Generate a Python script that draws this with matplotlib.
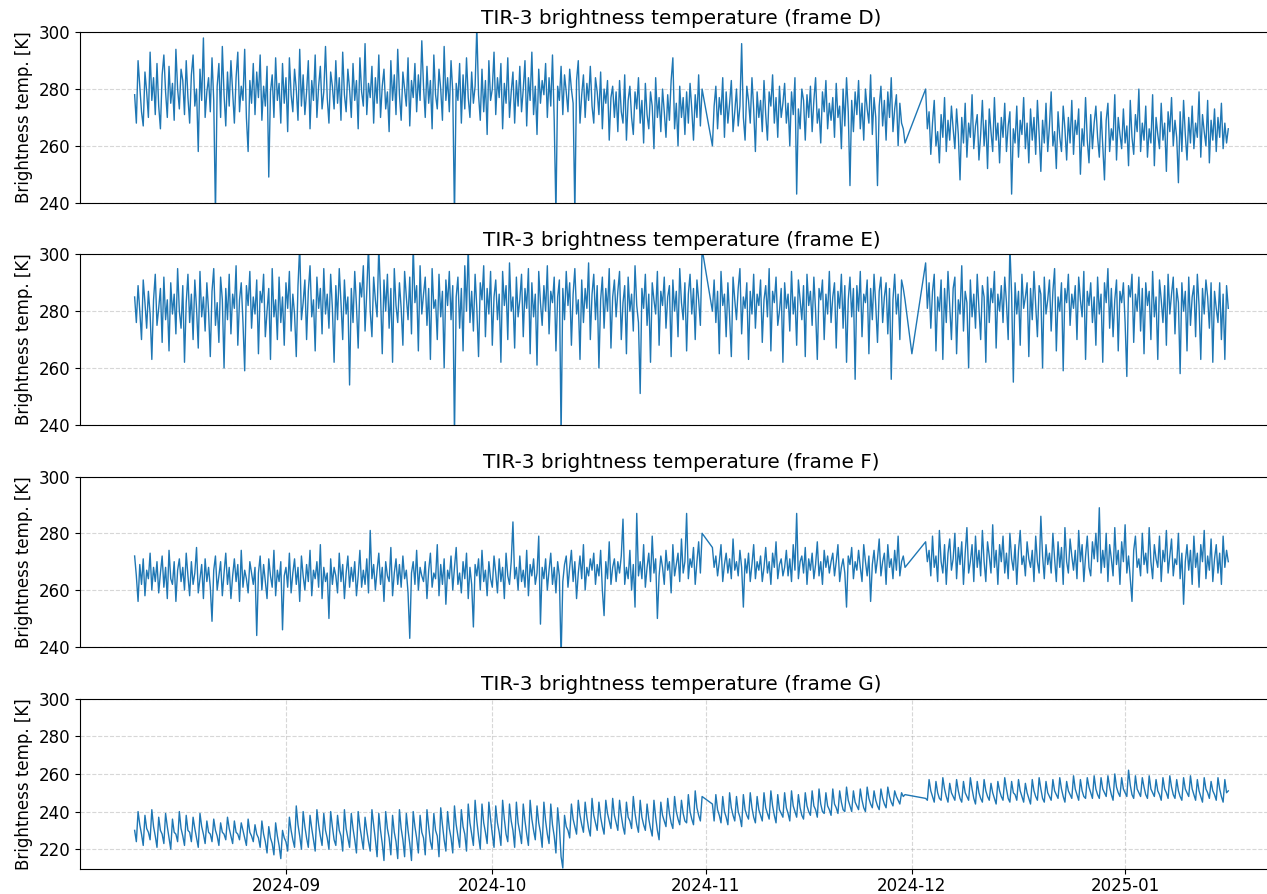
import numpy as np
import pandas as pd
import matplotlib
matplotlib.use('Agg')
import matplotlib.pyplot as plt
import matplotlib.dates as mdates

nan = np.nan

# Brightness temperatures [K], every 6 h from 2024-08-10, 3.5 days per line
frame_D = [
    278, 268, 290, 281, 272, 267, 286, 279, 270, 293, 276, 284, 271, 289,
    274, 266, 285, 292, 279, 270, 288, 275, 282, 269, 294, 280, 273, 287,
    283, 271, 290, 277, 268, 285, 292, 274, 280, 258, 287, 276, 298, 270,
    279, 284, 272, 291, 276, 236, 281, 289, 270, 295, 278, 267, 286, 274,
    290, 279, 268, 284, 293, 272, 281, 276, 294, 270, 258, 283, 275, 289,
    271, 286, 277, 292, 269, 281, 274, 288, 249, 279, 285, 270, 291, 276,
    282, 268, 289, 275, 284, 265, 291, 278, 272, 287, 280, 269, 294, 274,
    285, 271, 279, 290, 266, 283, 276, 292, 270, 281, 288, 273, 279, 295,
    277, 268, 286, 281, 273, 290, 275, 284, 269, 293, 278, 272, 287, 280,
    270, 289, 276, 283, 266, 291, 279, 274, 296, 271, 282, 277, 288, 268,
    284, 275, 292, 270, 281, 287, 273, 279, 265, 290, 276, 285, 271, 294,
    278, 269, 286, 280, 274, 291, 267, 283, 277, 289, 272, 285, 276, 297,
    281, 270, 288, 275, 283, 266, 292, 278, 273, 287, 280, 269, 295, 276,
    284, 272, 290, 279, 235, 282, 276, 289, 268, 285, 273, 291, 277, 270,
    286, 275, 281, 302, 278, 269, 287, 272, 283, 264, 290, 276, 280, 293,
    271, 284, 277, 289, 266, 282, 275, 291, 270, 279, 286, 268, 283, 274,
    288, 272, 280, 290, 267, 284, 276, 293, 271, 281, 264, 287, 275, 283,
    278, 289, 270, 284, 274, 292, 269, 236, 281, 276, 288, 271, 285, 279,
    272, 287, 280, 275, 236, 283, 290, 268, 278, 285, 270, 282, 276, 288,
    274, 268, 284, 279, 271, 286, 266, 280, 275, 283, 262, 277, 281, 270,
    279, 265, 283, 272, 268, 285, 262, 276, 281, 270, 264, 279, 273, 284,
    268, 276, 261, 282, 271, 266, 279, 274, 259, 284, 270, 277, 265, 280,
    272, 263, 278, 269, 283, 291, 266, 275, 260, 281, 270, 277, 264, 279,
    268, 282, 273, 262, 278, 270, 285, 267, 280, nan, nan, nan, nan, nan,
    260, 274, 281, 266, 277, 271, 284, 263, 279, 268, 275, 283, 265, 272,
    280, 267, 274, 296, 270, 262, 281, 276, 268, 284, 273, 258, 279, 270,
    276, 265, 283, 271, 262, 279, 274, 285, 268, 277, 263, 281, 270, 275,
    282, 268, 275, 260, 279, 271, 284, 243, 273, 266, 280, 276, 262, 278,
    270, 281, 265, 276, 284, 268, 273, 261, 279, 272, 283, 266, 275, 269,
    277, 263, 282, 270, 274, 259, 280, 267, 284, 272, 246, 276, 265, 279,
    271, 283, 266, 275, 262, 280, 273, 268, 285, 264, 277, 270, 246, 274,
    281, 267, 276, 262, 279, 270, 284, 265, 273, 278, 260, 275, 268, 266,
    261, nan, nan, nan, nan, nan, nan, nan, nan, nan, nan, nan, 280, 266,
    272, 257, 268, 276, 260, 265, 254, 271, 263, 277, 258, 269, 262, 274,
    266, 259, 273, 264, 248, 270, 261, 275, 256, 268, 263, 278, 259, 267,
    271, 255, 264, 276, 260, 269, 252, 273, 265, 258, 277, 262, 268, 254,
    270, 263, 275, 258, 267, 272, 243, 266, 261, 274, 256, 269, 264, 277,
    259, 268, 254, 273, 262, 270, 257, 276, 264, 251, 269, 261, 275, 258,
    267, 279, 260, 265, 252, 272, 263, 258, 274, 266, 255, 270, 261, 276,
    257, 269, 264, 273, 250, 266, 260, 277, 262, 254, 271, 259, 268, 274,
    263, 256, 272, 260, 248, 269, 275, 258, 266, 262, 278, 255, 270, 264,
    259, 273, 261, 267, 253, 276, 263, 257, 271, 265, 280, 258, 268, 262,
    274, 256, 266, 261, 278, 253, 270, 264, 259, 275, 262, 268, 251, 272,
    265, 277, 260, 269, 263, 247, 272, 258, 276, 264, 255, 270, 261, 274,
    259, 268, 263, 279, 256, 271, 265, 260, 276, 254, 269, 262, 273, 258,
    270, 263, 275, 259, 268, 261, 266,
]

frame_E = [
    285, 276, 289, 280, 270, 291, 283, 274, 287, 279, 263, 284, 293, 275,
    281, 288, 269, 292, 277, 284, 266, 290, 279, 286, 272, 295, 280, 274,
    289, 262, 283, 293, 276, 286, 270, 291, 281, 267, 294, 278, 285, 273,
    290, 280, 264, 287, 295, 275, 283, 269, 292, 284, 260, 288, 277, 293,
    272, 286, 281, 296, 268, 284, 290, 276, 259, 289, 282, 294, 274, 285,
    279, 291, 265, 287, 283, 293, 271, 280, 288, 263, 295, 278, 284, 270,
    292, 276, 285, 268, 290, 281, 294, 273, 286, 279, 264, 289, 303, 277,
    283, 291, 270, 287, 296, 278, 284, 266, 292, 281, 288, 272, 295, 279,
    286, 274, 293, 281, 262, 289, 277, 295, 283, 270, 291, 279, 285, 254,
    288, 276, 294, 282, 267, 290, 285, 296, 273, 287, 303, 280, 271, 292,
    284, 278, 303, 286, 265, 291, 280, 293, 274, 288, 262, 295, 282, 276,
    290, 281, 268, 294, 285, 277, 292, 272, 303, 283, 289, 266, 296, 279,
    286, 292, 275, 288, 263, 295, 281, 284, 270, 293, 278, 287, 260, 291,
    282, 294, 277, 289, 236, 285, 292, 274, 288, 266, 296, 280, 303, 276,
    287, 273, 293, 281, 264, 290, 284, 296, 271, 288, 279, 294, 268, 285,
    291, 277, 286, 262, 294, 282, 289, 270, 297, 280, 285, 267, 292, 278,
    284, 293, 271, 288, 281, 295, 265, 290, 278, 286, 261, 294, 283, 275,
    289, 280, 296, 272, 287, 283, 292, 266, 285, 291, 236, 288, 277, 294,
    282, 290, 268, 286, 295, 279, 284, 263, 291, 276, 288, 281, 297, 270,
    286, 293, 277, 289, 260, 284, 292, 274, 288, 280, 295, 267, 285, 291,
    278, 287, 294, 270, 283, 289, 265, 292, 280, 286, 273, 296, 282, 276,
    251, 288, 281, 293, 275, 286, 262, 290, 284, 279, 294, 268, 287, 282,
    292, 274, 285, 289, 264, 291, 280, 287, 271, 295, 283, 277, 290, 266,
    286, 293, 279, 288, 270, 291, 284, 275, 302, nan, nan, nan, nan, nan,
    280, 291, 276, 287, 265, 294, 282, 286, 271, 290, 278, 264, 292, 284,
    277, 288, 295, 272, 285, 281, 290, 263, 287, 279, 293, 274, 286, 282,
    291, 269, 284, 289, 278, 295, 266, 287, 283, 292, 275, 280, 288, 262,
    290, 281, 286, 273, 294, 279, 285, 268, 291, 284, 277, 289, 264, 293,
    282, 287, 275, 292, 280, 263, 288, 284, 291, 270, 286, 279, 294, 276,
    285, 290, 267, 287, 281, 293, 274, 289, 262, 284, 292, 278, 288, 256,
    289, 280, 294, 271, 286, 283, 291, 265, 288, 277, 293, 282, 269, 287,
    292, 276, 285, 290, 272, 288, 256, 284, 293, 279, 286, 270, 291, 288,
    284, nan, nan, nan, 265, nan, nan, nan, nan, nan, nan, nan, 297, 281,
    290, 274, 287, 293, 266, 285, 280, 291, 263, 288, 276, 294, 282, 270,
    288, 292, 265, 284, 279, 296, 273, 287, 283, 260, 291, 278, 286, 274,
    293, 281, 270, 289, 285, 262, 292, 276, 288, 283, 294, 267, 286, 280,
    289, 276, 292, 283, 270, 303, 286, 255, 290, 279, 287, 268, 293, 281,
    285, 290, 264, 288, 277, 294, 282, 271, 289, 286, 260, 292, 279, 284,
    291, 273, 287, 295, 266, 285, 280, 290, 259, 288, 283, 293, 275, 286,
    281, 289, 270, 292, 284, 278, 294, 263, 287, 282, 290, 276, 285, 268,
    292, 279, 286, 262, 290, 283, 295, 274, 288, 271, 284, 291, 266, 287,
    283, 290, 276, 257, 289, 285, 293, 269, 286, 280, 292, 273, 288, 265,
    290, 282, 287, 270, 294, 278, 285, 263, 291, 284, 276, 289, 268, 293,
    279, 286, 292, 272, 288, 283, 258, 290, 280, 287, 266, 292, 275, 285,
    289, 271, 293, 282, 263, 288, 279, 291, 285, 274, 290, 262, 287, 281,
    276, 290, 270, 286, 263, 289, 281,
]

frame_F = [
    272, 265, 256, 269, 262, 271, 258, 267, 264, 273, 260, 268, 263, 270,
    259, 266, 272, 261, 268, 257, 274, 264, 262, 270, 256, 267, 271, 263,
    268, 260, 273, 265, 258, 270, 262, 266, 275, 259, 264, 269, 257, 271,
    263, 268, 261, 249, 267, 272, 260, 265, 270, 258, 266, 273, 262, 268,
    257, 265, 271, 263, 269, 256, 274, 261, 267, 264, 259, 270, 266, 262,
    268, 244, 266, 272, 260, 269, 263, 257, 271, 265, 261, 274, 258, 267,
    263, 270, 246, 265, 268, 261, 273, 259, 266, 271, 262, 268, 256, 272,
    265, 260, 269, 263, 274, 258, 267, 264, 270, 261, 276, 257, 268, 263,
    266, 250, 271, 262, 268, 265, 259, 273, 263, 269, 257, 266, 272, 261,
    268, 263, 270, 258, 265, 274, 261, 267, 262, 271, 259, 281, 264, 269,
    260, 267, 273, 262, 268, 256, 270, 265, 263, 275, 258, 266, 271, 262,
    269, 261, 272, 264, 267, 259, 243, 266, 270, 262, 274, 260, 268, 265,
    263, 270, 257, 267, 273, 261, 266, 264, 276, 258, 269, 262, 271, 255,
    267, 264, 272, 260, 268, 275, 262, 266, 259, 270, 264, 273, 257, 268,
    262, 247, 269, 265, 271, 260, 274, 263, 267, 258, 270, 264, 261, 272,
    266, 259, 271, 263, 268, 257, 273, 265, 262, 270, 284, 264, 268, 260,
    272, 263, 267, 261, 274, 258, 269, 265, 271, 262, 266, 279, 248, 268,
    264, 271, 260, 267, 273, 262, 268, 259, 270, 265, 236, 263, 269, 272,
    261, 268, 274, 263, 270, 257, 266, 272, 264, 276, 260, 268, 265, 271,
    267, 273, 262, 269, 265, 274, 260, 251, 270, 264, 277, 262, 268, 271,
    263, 270, 266, 272, 285, 262, 268, 264, 274, 260, 269, 254, 287, 265,
    270, 264, 276, 261, 268, 273, 263, 279, 266, 271, 250, 265, 272, 268,
    262, 274, 267, 270, 259, 276, 265, 269, 273, 263, 278, 266, 270, 287,
    264, 271, 268, 275, 262, 270, 277, 266, 280, nan, nan, nan, nan, nan,
    275, 268, 272, 265, 270, 276, 263, 269, 273, 266, 271, 264, 278, 267,
    270, 265, 274, 268, 254, 271, 266, 273, 263, 269, 276, 264, 270, 267,
    272, 263, 268, 275, 266, 270, 262, 273, 268, 277, 264, 269, 271, 265,
    268, 274, 265, 271, 263, 276, 267, 287, 264, 270, 272, 266, 275, 262,
    271, 267, 273, 264, 269, 277, 265, 270, 262, 274, 268, 272, 266, 270,
    273, 265, 270, 276, 263, 268, 271, 266, 254, 272, 269, 275, 264, 270,
    267, 274, 268, 263, 276, 270, 265, 272, 256, 269, 274, 266, 271, 278,
    265, 270, 273, 262, 276, 268, 271, 264, 274, 267, 279, 265, 270, 272,
    268, nan, nan, nan, nan, nan, nan, nan, nan, nan, nan, nan, 277, 270,
    274, 265, 279, 268, 272, 263, 281, 270, 266, 276, 262, 273, 278, 267,
    271, 280, 264, 275, 269, 277, 262, 273, 282, 266, 270, 276, 263, 279,
    268, 274, 265, 281, 270, 263, 277, 272, 266, 283, 268, 274, 262, 276,
    270, 279, 266, 273, 264, 280, 271, 267, 276, 262, 274, 281, 269, 272,
    265, 277, 271, 268, 274, 263, 279, 270, 266, 286, 272, 264, 276, 269,
    273, 266, 280, 271, 263, 277, 268, 275, 262, 282, 270, 266, 278, 272,
    267, 274, 264, 281, 270, 276, 263, 272, 279, 268, 265, 277, 271, 280,
    270, 289, 266, 274, 268, 280, 263, 276, 271, 265, 282, 269, 274, 262,
    277, 270, 283, 266, 272, 264, 256, 274, 279, 268, 271, 265, 280, 269,
    273, 266, 282, 270, 264, 276, 271, 268, 279, 263, 274, 270, 281, 266,
    272, 278, 265, 271, 269, 280, 264, 273, 255, 270, 276, 267, 274, 262,
    279, 268, 273, 261, 276, 270, 281, 264, 272, 267, 278, 263, 271, 276,
    266, 273, 262, 279, 268, 274, 270,
]

frame_G = [
    230, 224, 240, 233, 228, 222, 238, 231, 229, 225, 241, 232, 227, 221,
    237, 230, 228, 223, 239, 232, 226, 220, 236, 229, 228, 224, 240, 231,
    227, 222, 238, 230, 229, 224, 237, 231, 226, 221, 239, 232, 228, 223,
    235, 229, 228, 224, 236, 230, 227, 222, 234, 229, 228, 225, 237, 231,
    227, 223, 235, 229, 228, 225, 234, 230, 226, 222, 236, 229, 227, 224,
    233, 228, 226, 221, 235, 228, 224, 218, 232, 226, 223, 217, 234, 227,
    222, 215, 230, 226, 224, 219, 237, 230, 225, 221, 243, 233, 227, 220,
    240, 232, 226, 221, 238, 231, 225, 219, 241, 233, 227, 222, 239, 230,
    226, 220, 240, 232, 225, 222, 238, 230, 227, 219, 241, 231, 226, 221,
    239, 231, 225, 218, 240, 232, 226, 220, 237, 230, 224, 219, 241, 233,
    225, 216, 239, 230, 223, 214, 240, 231, 226, 217, 238, 229, 224, 215,
    241, 231, 225, 216, 239, 230, 223, 214, 240, 232, 226, 218, 238, 229,
    226, 217, 241, 232, 224, 220, 239, 230, 227, 216, 242, 233, 225, 219,
    240, 231, 226, 218, 243, 233, 227, 221, 241, 232, 228, 219, 244, 234,
    228, 222, 246, 235, 227, 220, 244, 234, 229, 223, 245, 236, 228, 221,
    243, 234, 229, 222, 246, 236, 228, 224, 244, 235, 230, 221, 245, 234,
    229, 223, 244, 235, 228, 222, 246, 236, 230, 225, 243, 234, 229, 221,
    245, 235, 228, 223, 244, 233, 227, 218, 242, 232, 216, 210, 238, 232,
    230, 226, 244, 236, 232, 228, 246, 238, 233, 229, 245, 237, 231, 227,
    247, 238, 234, 230, 245, 237, 232, 228, 246, 239, 235, 231, 247, 238,
    234, 230, 246, 238, 232, 228, 245, 237, 235, 231, 248, 239, 233, 229,
    246, 237, 233, 230, 244, 236, 231, 227, 246, 237, 230, 225, 245, 238,
    235, 232, 247, 239, 234, 231, 248, 240, 236, 233, 246, 239, 235, 234,
    249, 240, 236, 233, 251, 242, 238, 235, 248, nan, nan, nan, nan, nan,
    244, 235, 249, 241, 238, 234, 248, 240, 237, 233, 250, 242, 238, 235,
    248, 240, 237, 232, 249, 241, 238, 236, 250, 242, 237, 234, 248, 241,
    238, 235, 250, 242, 239, 236, 251, 243, 238, 234, 249, 241, 239, 237,
    250, 242, 239, 235, 251, 243, 240, 237, 249, 242, 238, 236, 250, 243,
    240, 238, 251, 243, 241, 237, 252, 244, 240, 239, 250, 243, 241, 238,
    252, 244, 242, 239, 251, 245, 241, 240, 253, 246, 243, 240, 251, 245,
    243, 241, 252, 246, 242, 240, 253, 247, 244, 242, 251, 246, 243, 241,
    252, 247, 244, 242, 253, 248, 245, 243, 251, 248, 246, 244, 250, 248,
    249, nan, nan, nan, nan, nan, nan, nan, nan, nan, nan, nan, 247, 246,
    257, 251, 248, 245, 256, 250, 247, 246, 258, 252, 248, 245, 255, 250,
    248, 246, 257, 251, 247, 245, 256, 250, 248, 246, 258, 252, 247, 244,
    256, 250, 247, 245, 257, 251, 248, 246, 255, 250, 247, 244, 256, 251,
    248, 246, 258, 252, 247, 245, 256, 250, 249, 246, 257, 251, 248, 245,
    255, 250, 247, 244, 257, 251, 248, 246, 258, 252, 247, 245, 256, 250,
    248, 246, 257, 251, 249, 247, 258, 252, 248, 245, 256, 251, 249, 247,
    259, 252, 249, 246, 257, 251, 248, 247, 258, 253, 250, 247, 259, 252,
    249, 247, 258, 252, 250, 248, 259, 253, 249, 246, 260, 253, 250, 248,
    258, 252, 250, 248, 262, 254, 249, 247, 259, 252, 250, 248, 258, 253,
    249, 247, 259, 252, 250, 248, 257, 251, 249, 246, 258, 252, 250, 247,
    259, 253, 249, 247, 257, 251, 248, 246, 258, 252, 250, 248, 259, 252,
    249, 246, 257, 251, 248, 245, 258, 252, 250, 247, 256, 251, 249, 246,
    258, 252, 248, 245, 257, 250, 251,
]

frames = ['D', 'E', 'F', 'G']
series = [frame_D, frame_E, frame_F, frame_G]
ylims = [(240, 300), (240, 300), (240, 300), (209.5, 300)]

fig, axes = plt.subplots(4, 1, figsize=(12.67, 8.94), dpi=100, sharex=True)
fig.subplots_adjust(left=0.0631, right=1.0126, top=0.9639, bottom=0.028, hspace=0.304)

for ax, name, vals, yl in zip(axes, frames, series, ylims):
    vals = np.array(vals, dtype=float)
    dates = pd.date_range('2024-08-10', periods=len(vals), freq='6h')
    ok = np.isfinite(vals)
    # gaps in the record are simply bridged by the line
    ax.plot(dates[ok], vals[ok], color='#1f77b4', linewidth=1.0)
    ax.set_title(f'TIR-3 brightness temperature (frame {name})', fontsize=14.4)
    ax.set_ylabel('Brightness temp. [K]', fontsize=12)
    ax.set_ylim(*yl)
    ax.tick_params(axis='y', labelsize=12)
    if name == 'G':
        ax.set_yticks([220, 240, 260, 280, 300])
        ax.grid(True, linestyle='--', color='#b0b0b0', alpha=0.5, linewidth=0.8)
    else:
        ax.set_yticks([240, 260, 280, 300])
        ax.grid(True, axis='y', linestyle='--', color='#b0b0b0', alpha=0.5, linewidth=0.8)
        ax.tick_params(axis='x', bottom=False, labelbottom=False)

axes[-1].xaxis.set_major_locator(mdates.MonthLocator())
axes[-1].xaxis.set_major_formatter(mdates.DateFormatter('%Y-%m'))
axes[-1].tick_params(axis='x', labelsize=12, pad=2)

plt.savefig('out.png', dpi=100)
